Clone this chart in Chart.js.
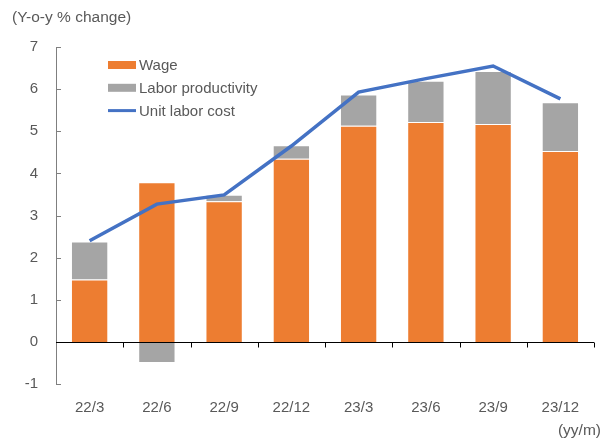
<!DOCTYPE html>
<html>
<head>
<meta charset="utf-8">
<style>
  html, body { margin: 0; padding: 0; background: #ffffff; }
  #wrap { width: 607px; height: 439px; position: relative; }
</style>
<script src="https://cdn.jsdelivr.net/npm/chart.js@4/dist/chart.umd.min.js"></script>
</head>
<body>
<div id="wrap"><canvas id="c" width="607" height="439"></canvas></div>
<script>
// Quarterly y-o-y changes (%)
const categories = ['22/3', '22/6', '22/9', '22/12', '23/3', '23/6', '23/9', '23/12'];
const wage = [1.48, 3.79, 3.34, 4.35, 5.13, 5.22, 5.17, 4.53];
const laborProductivity = [0.90, -0.50, 0.15, 0.32, 0.74, 0.98, 1.26, 1.16];
const unitLaborCost = [2.40, 3.27, 3.49, 4.65, 5.93, 6.25, 6.55, 5.77];
const yTicks = [-1, 0, 1, 2, 3, 4, 5, 6, 7];

const FONT = "'Liberation Sans', Arial, sans-serif";
const TEXT = '#595959';

// Zero line with category tick marks, inward y ticks, axis captions and legend
const decorations = {
  id: 'decorations',
  afterDatasetsDraw(chart) {
    const { ctx, chartArea: a, scales: { x, y } } = chart;
    ctx.save();
    // inward tick marks on the value axis
    ctx.strokeStyle = '#7f7f7f';
    ctx.lineWidth = 1;
    yTicks.forEach(v => {
      const py = Math.round(y.getPixelForValue(v)) + 0.5;
      ctx.beginPath();
      ctx.moveTo(a.left, py);
      ctx.lineTo(a.left + 5, py);
      ctx.stroke();
    });
    // horizontal axis through zero
    const y0 = Math.round(y.getPixelForValue(0)) + 0.5;
    ctx.strokeStyle = '#000000';
    ctx.beginPath();
    ctx.moveTo(a.left, y0);
    ctx.lineTo(a.right, y0);
    ctx.stroke();
    const step = (x.right - x.left) / categories.length;
    for (let i = 1; i <= categories.length; i++) {
      const px = Math.round(x.left + i * step) + 0.5;
      ctx.beginPath();
      ctx.moveTo(px, y0);
      ctx.lineTo(px, y0 + 5);
      ctx.stroke();
    }
    ctx.restore();
  },
  afterDraw(chart) {
    const { ctx } = chart;
    ctx.save();
    ctx.fillStyle = TEXT;
    ctx.font = '15.5px ' + FONT;
    ctx.textBaseline = 'middle';
    ctx.textAlign = 'left';
    ctx.fillText('(Y-o-y % change)', 12, 18);
    ctx.textAlign = 'right';
    ctx.fillText('(yy/m)', 601, 431);

    // legend
    ctx.font = '15px ' + FONT;
    const lx = 108, ly = 65, gap = 22.8;
    chart.data.datasets.forEach((ds, i) => {
      const cy = ly + i * gap;
      if (ds.type === 'line') {
        ctx.strokeStyle = ds.borderColor;
        ctx.lineWidth = 3;
        ctx.beginPath();
        ctx.moveTo(lx, cy);
        ctx.lineTo(lx + 28, cy);
        ctx.stroke();
      } else {
        ctx.fillStyle = ds.backgroundColor;
        ctx.fillRect(lx, cy - 4, 28, 8);
      }
      ctx.fillStyle = TEXT;
      ctx.textAlign = 'left';
      ctx.fillText(ds.label, lx + 31, cy + 1);
    });
    ctx.restore();
  }
};

new Chart(document.getElementById('c'), {
  data: {
    labels: categories,
    datasets: [
      {
        type: 'bar', label: 'Wage', data: wage, stack: 'bars', order: 1,
        backgroundColor: '#ED7D31', borderColor: 'rgba(255,255,255,0.55)', borderWidth: 1,
        categoryPercentage: 1, barPercentage: 0.555
      },
      {
        type: 'bar', label: 'Labor productivity', data: laborProductivity, stack: 'bars', order: 1,
        backgroundColor: '#A5A5A5', borderColor: 'rgba(255,255,255,0.55)', borderWidth: 1,
        categoryPercentage: 1, barPercentage: 0.555
      },
      {
        type: 'line', label: 'Unit labor cost', data: unitLaborCost, stack: 'ulc', order: 0,
        borderColor: '#4472C4', borderWidth: 3.5, pointRadius: 0, tension: 0, fill: false
      }
    ]
  },
  options: {
    responsive: false,
    animation: false,
    devicePixelRatio: 1,
    layout: { padding: { top: 47, right: 13, left: 0, bottom: 0 } },
    plugins: { legend: { display: false }, tooltip: { enabled: false } },
    scales: {
      x: {
        stacked: true,
        offset: true,
        grid: { display: false, drawTicks: false },
        border: { display: false },
        ticks: { color: TEXT, font: { family: FONT, size: 15 }, padding: 15, maxRotation: 0 },
        afterFit(s) { s.height = 55; }
      },
      y: {
        stacked: true,
        min: -1, max: 7,
        afterBuildTicks(s) { s.ticks = yTicks.map(v => ({ value: v })); },
        grid: { display: false, drawTicks: false },
        border: { display: true, color: '#7f7f7f', width: 1 },
        ticks: { color: TEXT, font: { family: FONT, size: 15 }, padding: 18 },
        afterFit(s) { s.width = 56; }
      }
    }
  },
  plugins: [decorations]
});
</script>
</body>
</html>
